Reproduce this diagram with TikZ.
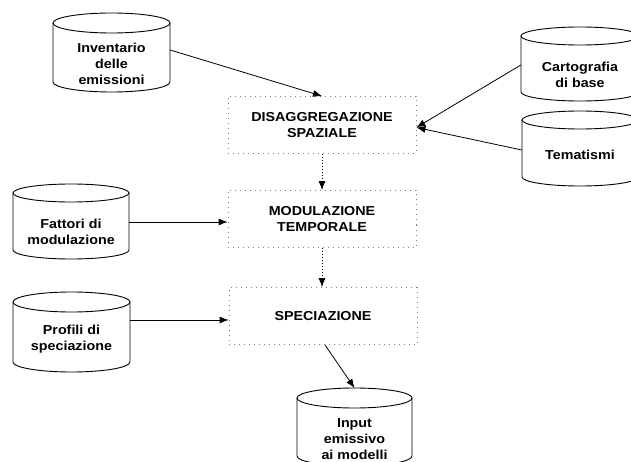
\documentclass[tikz,border=0pt]{standalone}
\usepackage{fontspec}
\setmainfont{Liberation Sans}[FakeStretch=1.1]
\usetikzlibrary{arrows.meta}
\tikzset{
  drumline/.style={draw=black, line width=0.9pt},
  drumtext/.style={align=center, inner sep=0pt, font=\fontsize{13}{16}\selectfont\bfseries},
  procbox/.style={draw=black!50, dash pattern=on 1pt off 4pt, line width=0.8pt,
    minimum width=188pt, minimum height=57pt, align=center, inner sep=0pt,
    font=\fontsize{13}{15.5}\selectfont\bfseries},
  link/.style={draw=black, line width=0.8pt, -{Latex[length=9pt,width=7pt]}},
  dotlink/.style={draw=black, line width=0.8pt, dash pattern=on 1pt off 2pt,
    -{Latex[length=9pt,width=7pt]}}
}
% #1 name, #2 cx, #3 y of top ellipse centre, #4 y of bottom ellipse centre,
% #5 x radius, #6 y radius, #7 y of text centre, #8 text
\newcommand\drum[8]{%
  \draw[drumline] (#2-#5,#3) -- (#2-#5,#4)
    arc[start angle=180, end angle=360, x radius=#5pt, y radius=#6pt] -- (#2+#5,#3);
  \draw[drumline, fill=white] (#2,#3) ellipse[x radius=#5pt, y radius=#6pt];
  \coordinate (#1-top) at (#2,#3-#6);
  \node[drumtext, minimum width={2*#5pt}] (#1) at (#2,#7) {#8};
}
\begin{document}
\begin{tikzpicture}[x=1pt, y=-1pt]
  \useasboundingbox (0,0) rectangle (631,462);
  \clip (0,0) rectangle (631,462);

  \drum{inv}{111.5}{23}{82}{58.5}{10}{64}{Inventario\\delle\\emissioni}
  \drum{carto}{580}{36}{92}{59}{9}{75}{Cartografia\\di base}
  \drum{tema}{580}{120}{177}{58}{9}{155}{Tematismi}
  \drum{fat}{71}{193}{250}{58}{9}{231.5}{Fattori di\\modulazione}
  \drum{prof}{71.5}{302}{362}{58.5}{10}{339}{Profili di\\speciazione}
  \drum{inp}{354.5}{398}{456}{57.5}{10}{439}{Input\\emissivo\\ai modelli}

  \node[procbox] (dis) at (322,125) {DISAGGREGAZIONE\\SPAZIALE};
  \node[procbox] (mod) at (322,219) {MODULAZIONE\\TEMPORALE};
  \node[procbox] (spe) at (323,316) {SPECIAZIONE};

  \draw[link] ([yshift=14pt]inv.east) -- (dis.north);
  \draw[link] ([yshift=10pt]carto.west) -- ([yshift=-2.5pt]dis.east);
  \draw[link] ([yshift=5pt]tema.west) -- ([yshift=-2.5pt]dis.east);
  \draw[link] ([yshift=9.5pt]fat.east) -- ([yshift=-3pt]mod.west);
  \draw[link] ([yshift=19pt]prof.east) -- ([yshift=-4pt]spe.west);
  \draw[dotlink] (dis.south) -- (mod.north);
  \draw[dotlink] (mod.south) -- ([xshift=-1pt]spe.north);
  \draw[link] ([xshift=2pt]spe.south) -- (inp-top);
\end{tikzpicture}
\end{document}
